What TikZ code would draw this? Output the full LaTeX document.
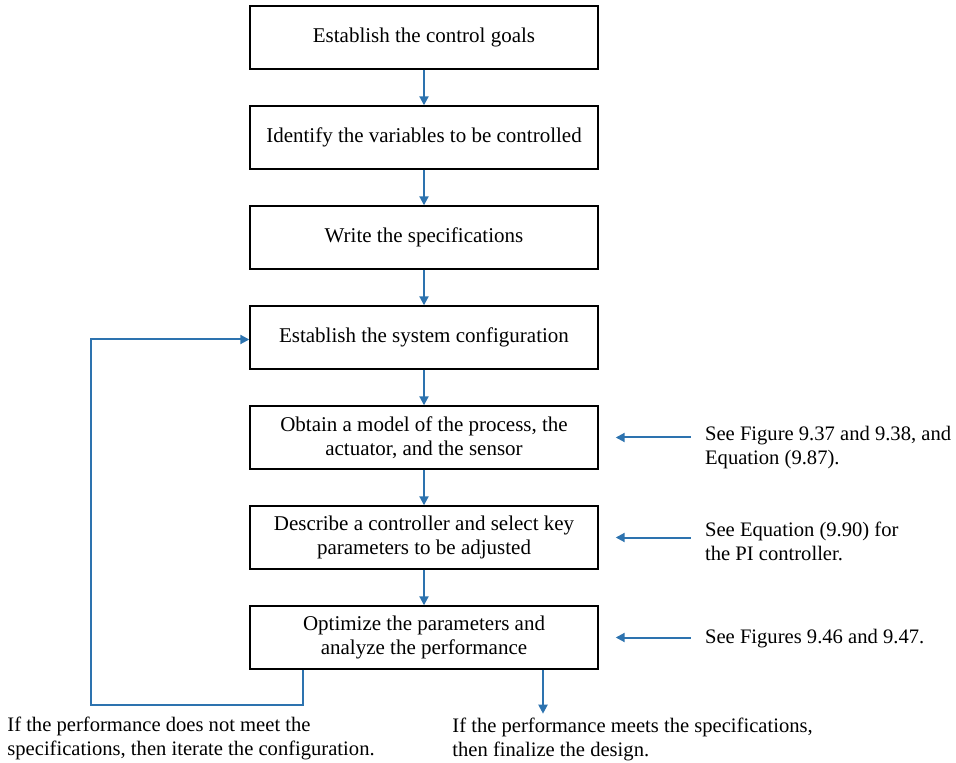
\documentclass[tikz,border=0pt]{standalone}
\usepackage{fontspec}
\setmainfont{Liberation Serif}
\usetikzlibrary{arrows.meta,positioning}
\definecolor{flowblue}{RGB}{45,115,175}
\tikzset{
  stepbox/.style={
    draw, line width=0.7pt,
    minimum width=174pt, minimum height=31.5pt,
    align=center, inner sep=2pt,
    font=\fontsize{10.5}{12}\selectfont
  },
  note/.style={
    align=left, inner sep=0pt,
    font=\fontsize{10.3}{12}\selectfont
  },
  arrow/.style={-{Triangle[length=4.5pt,width=4.5pt]}, draw=flowblue, line width=1pt}
}

\begin{document}
\begin{tikzpicture}[node distance=17.8pt]
\useasboundingbox (0,0) rectangle (478pt,-381.5pt);

% ---------- Main steps ----------
\node[stepbox] (goals) at (212pt,-18.75pt) {Establish the control goals};
\node[stepbox, below=of goals] (vars) {Identify the variables to be controlled};
\node[stepbox, below=of vars] (specs) {Write the specifications};
\node[stepbox, below=of specs] (config) {Establish the system configuration};
\node[stepbox, below=of config] (model)
  {Obtain a model of the process, the\\actuator, and the sensor};
\node[stepbox, below=of model] (ctrl)
  {Describe a controller and select key\\parameters to be adjusted};
\node[stepbox, below=of ctrl] (opt)
  {Optimize the parameters and\\analyze the performance};

\draw[arrow] (goals) -- (vars);
\draw[arrow] (vars) -- (specs);
\draw[arrow] (specs) -- (config);
\draw[arrow] (config) -- (model);
\draw[arrow] (model) -- (ctrl);
\draw[arrow] (ctrl) -- (opt);

% ---------- References on the right ----------
\node[note, right=53pt of model, yshift=-5pt] (seemodel)
  {See Figure 9.37 and 9.38, and\\Equation (9.87).};
\node[note, right=53pt of ctrl, yshift=-2pt] (seectrl)
  {See Equation (9.90) for\\the PI controller.};
\node[note, right=53pt of opt, yshift=-0.5pt] (seeopt) {See Figures 9.46 and 9.47.};

\draw[arrow, shorten >=8.5pt, shorten <=7pt] (seemodel.west |- model.east) -- (model.east);
\draw[arrow, shorten >=8.5pt, shorten <=7pt] (seectrl.west |- ctrl.east) -- (ctrl.east);
\draw[arrow, shorten >=8.5pt, shorten <=7pt] (seeopt.west |- opt.east) -- (opt.east);

% ---------- Iterate or finish ----------
\coordinate[below=17.5pt of opt.south west, xshift=27pt] (loopbot);
\coordinate[left=79pt of config.west, yshift=-1pt] (loopleft);
\draw[arrow] (opt.south -| loopbot) -- (loopbot) -| (loopleft) -- (config.west |- loopleft);

\coordinate[below=22pt of opt.south, xshift=59.5pt] (done);
\draw[arrow] (opt.south -| done) -- (done);

\node[note, anchor=west] (iterate) at (3.5pt,-369pt)
  {If the performance does not meet the\\specifications, then iterate the configuration.};
\node[note, anchor=west] (finalize) at (226pt,-369.5pt)
  {If the performance meets the specifications,\\then finalize the design.};

\end{tikzpicture}
\end{document}
